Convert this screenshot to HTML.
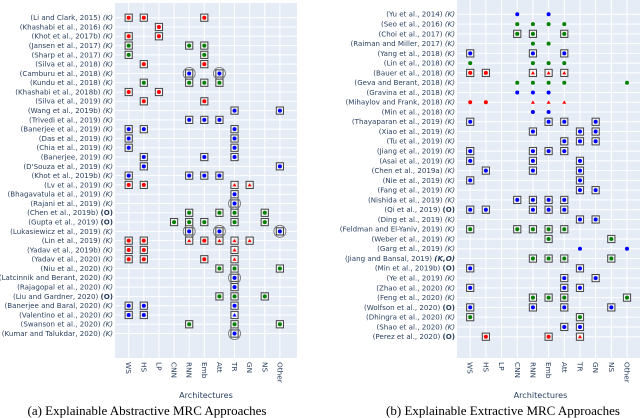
<!DOCTYPE html>
<html><head><meta charset="utf-8"><style>
body{margin:0;background:#fff;width:640px;height:418px;overflow:hidden}
svg{display:block}
text{font-family:"DejaVu Sans","Liberation Sans",sans-serif}
</style></head><body>
<svg id="chart" width="640" height="418" viewBox="0 0 640 418"></svg>
<script>
const architectures=["WS","HS","LP","CNN","RNN","Emb","Att","TR","GN","NS","Other"];
// mark code: color(r/g/b) + optional T(triangle) + B(box) + C(circle)
const leftNames=["(Li and Clark, 2015)","(Khashabi et al., 2016)","(Khot et al., 2017b)","(Jansen et al., 2017)","(Sharp et al., 2017)","(Silva et al., 2018)","(Camburu et al., 2018)","(Kundu et al., 2018)","(Khashabi et al., 2018b)","(Silva et al., 2019)","(Wang et al., 2019b)","(Trivedi et al., 2019)","(Banerjee et al., 2019)","(Das et al., 2019)","(Chia et al., 2019)","(Banerjee, 2019)","(D'Souza et al., 2019)","(Khot et al., 2019b)","(Lv et al., 2019)","(Bhagavatula et al., 2019)","(Rajani et al., 2019)","(Chen et al., 2019b)","(Gupta et al., 2019)","(Lukasiewicz et al., 2019)","(Lin et al., 2019)","(Yadav et al., 2019b)","(Yadav et al., 2020)","(Niu et al., 2020)","(Latcinnik and Berant, 2020)","(Rajagopal et al., 2020)","(Liu and Gardner, 2020)","(Banerjee and Baral, 2020)","(Valentino et al., 2020)","(Swanson et al., 2020)","(Kumar and Talukdar, 2020)"];
const leftTags=["K","K","K","K","K","K","K","K","K","K","K","K","K","K","K","K","K","K","K","K","K","O","O","K","K","K","K","K","K","K","O","K","K","K","K"];
const leftMarks=[
"WS:rB HS:rB Emb:rB","LP:rB","WS:rB LP:rB","WS:gB RNN:gB Emb:gB","WS:gB Emb:gB","HS:rB Emb:rB","RNN:bBC Att:bBC","HS:gB RNN:gB Emb:gB Att:gB","WS:rB LP:rB","HS:rB Emb:rB",
"TR:bB Other:bB","RNN:bB Emb:bB Att:bB","WS:bB HS:bB TR:bB","WS:bB TR:bB","WS:bB TR:bB","HS:bB Emb:bB TR:bB","HS:bB Other:bB","WS:bB RNN:bB Emb:bB Att:bB","WS:rB HS:rB TR:rTB GN:rTB","TR:bB",
"TR:bBC","RNN:gB Att:gB TR:gB NS:gB","CNN:gB RNN:gB Emb:gB TR:gB NS:gB","RNN:bBC Att:bBC Other:bBC","WS:rB HS:rB RNN:rTB Emb:rB Att:rTB TR:rTB GN:rTB","WS:rB HS:rB TR:rTB","WS:rB HS:rB Emb:rB TR:rTB","Att:gB TR:gB Other:gB","TR:bBC","TR:bB",
"Att:gB TR:gB NS:gB","WS:bB HS:bB TR:bB","WS:bB HS:bB TR:bTB","RNN:gB TR:gB Other:gB","TR:bBC"];
const rightNames=["(Yu et al., 2014)","(Seo et al., 2016)","(Choi et al., 2017)","(Raiman and Miller, 2017)","(Yang et al., 2018)","(Lin et al., 2018)","(Bauer et al., 2018)","(Geva and Berant, 2018)","(Gravina et al., 2018)","(Mihaylov and Frank, 2018)","(Min et al., 2018)","(Thayaparan et al., 2019)","(Xiao et al., 2019)","(Tu et al., 2019)","(Jiang et al., 2019)","(Asai et al., 2019)","(Chen et al., 2019a)","(Nie et al., 2019)","(Fang et al., 2019)","(Nishida et al., 2019)","(Qi et al., 2019)","(Ding et al., 2019)","(Feldman and El-Yaniv, 2019)","(Weber et al., 2019)","(Garg et al., 2019)","(Jiang and Bansal, 2019)","(Min et al., 2019b)","(Ye et al., 2019)","(Zhao et al., 2020)","(Feng et al., 2020)","(Wolfson et al., 2020)","(Dhingra et al., 2020)","(Shao et al., 2020)","(Perez et al., 2020)"];
const rightTags=["K","K","K","K","K","K","K","K","K","K","K","K","K","K","K","K","K","K","K","K","O","K","K","K","K","K,O","O","K","K","K","O","K","K","O"];
const rightMarks=[
"CNN:b Emb:b","CNN:g RNN:g Emb:g Att:g","CNN:gB RNN:gB Att:gB","RNN:g Emb:g","WS:bB RNN:bB Att:bB","WS:g RNN:g Emb:g Att:g","WS:rB HS:rB RNN:rTB Emb:rTB Att:rTB","CNN:g RNN:g Emb:g Att:g Other:g","CNN:b RNN:b Emb:b","WS:r HS:r RNN:rT Emb:rT Att:rT",
"RNN:b Emb:b","WS:bB Emb:bB Att:bB GN:bB","RNN:bB TR:bB GN:bB","Att:bB TR:bB GN:bB","WS:bB RNN:bB Emb:bB Att:bB","WS:bB RNN:bB TR:bB","HS:bB RNN:bB TR:bB","WS:bB TR:bB","TR:bB GN:bB","CNN:bB RNN:bB Emb:bB Att:bB",
"WS:bB HS:bB RNN:bB Emb:bB Att:bB","TR:bB GN:bB","WS:gB CNN:gB RNN:gB Emb:gB Att:gB","Emb:gB NS:gB","TR:b Other:b","RNN:gB Emb:gB Att:gB NS:gB","WS:bB TR:bB","Att:bB GN:bB","WS:bB Att:bB TR:bB","RNN:gB Emb:gB Att:gB Other:gB",
"WS:bB RNN:bB Att:bB NS:bB","WS:gB TR:gB","Att:bB TR:bB","HS:rB Emb:rB TR:rTB"];

const NS="http://www.w3.org/2000/svg";
const svg=document.getElementById('chart');
const COL={r:"#ff0000",g:"#008000",b:"#0000ff"};
function mk(tag,attrs,parent){const e=document.createElementNS(NS,tag);for(const k in attrs)e.setAttribute(k,attrs[k]);(parent||svg).appendChild(e);return e;}

function panel(cfg,names,tags,marks){
  const g=mk('g',{});
  
  
  const xs=i=>cfg.x0+i*cfg.dx;
  const ys=i=>cfg.y0+i*cfg.dy;
  const bg=mk('rect',{x:cfg.left,y:cfg.top,width:cfg.right-cfg.left,height:cfg.bottom-cfg.top,fill:"#e5ecf6"},g);
  
  
  architectures.forEach((a,i)=>{const l=mk('line',{x1:xs(i),x2:xs(i),y1:cfg.top,y2:cfg.bottom,stroke:"#fff","stroke-width":1},g);
    
    });
  names.forEach((n,i)=>{const l=mk('line',{x1:cfg.left,x2:cfg.right,y1:ys(i),y2:ys(i),stroke:"#fff","stroke-width":1},g);
    
    });
  names.forEach((n,i)=>{
    const t=mk('text',{x:cfg.left-2,y:ys(i)+cfg.fs*0.34,"text-anchor":"end","font-size":cfg.fs,fill:"#2a3f5f"},g);
    
    
    t.textContent=n+" ";
    const s=mk('tspan',{},t);
    const tg=tags[i];
    if(tg==="K"){s.setAttribute('font-style','italic');}
    else if(tg==="O"){s.setAttribute('font-weight','bold');}
    else{s.setAttribute('font-style','italic');s.setAttribute('font-weight','bold');}
    s.textContent="("+tg+")";
  });
  marks.forEach((row,i)=>{
    row.split(" ").forEach(tok=>{
      const [a,code]=tok.split(":");
      const ci=architectures.indexOf(a);
      const x=xs(ci),y=ys(i);
      const c=COL[code[0]];
      const mg=mk('g',{},g);
      
      
      if(code.includes('C'))mk('circle',{cx:x,cy:y,r:6,fill:"none",stroke:"#777","stroke-width":0.9},mg);
      if(code.includes('B'))mk('rect',{x:x-3.6,y:y-3.6,width:7.2,height:7.2,fill:"#f3f3f3",stroke:"#444","stroke-width":1},mg);
      if(code.includes('T'))mk('path',{d:`M${x-2} ${y+1.5}L${x+2} ${y+1.5}L${x} ${y-1.8}Z`,fill:c},mg);
      else mk('circle',{cx:x,cy:y,r:2,fill:c},mg);
    });
  });
  architectures.forEach((a,i)=>{
    const t=mk('text',{x:0,y:0,transform:`translate(${xs(i)-cfg.tfs*0.34},${cfg.bottom+4}) rotate(90)`,"font-size":cfg.tfs,fill:"#2a3f5f"},g);
    
    
    t.textContent=a;
  });
  const xt=mk('text',{x:(cfg.left+cfg.right)/2+cfg.titleShift,y:398,"text-anchor":"middle","font-size":cfg.tfs+0.8,fill:"#2a3f5f"},g);
  
  
  xt.textContent="Architectures";
  const cap=mk('text',{x:cfg.capX,y:415,"text-anchor":"middle","font-size":"13",fill:"#000"},g);
  
  
  cap.style.fontFamily='"Liberation Serif",serif';
  cap.textContent=cfg.caption;
}
panel({id:'abstractive-panel',fs:7.1,tfs:7.3,left:115,right:297,top:3,bottom:358,x0:128.7,dx:15.12,y0:17.7,dy:9.29,titleShift:0,capX:147,caption:"(a) Explainable Abstractive MRC Approaches"},leftNames,leftTags,leftMarks);
panel({id:'extractive-panel',fs:7.1,tfs:7.3,left:457,right:640,top:0,bottom:358,x0:470.2,dx:15.68,y0:14.3,dy:9.77,titleShift:-8,capX:503,caption:"(b) Explainable Extractive MRC Approaches"},rightNames,rightTags,rightMarks);
</script>
</body></html>
